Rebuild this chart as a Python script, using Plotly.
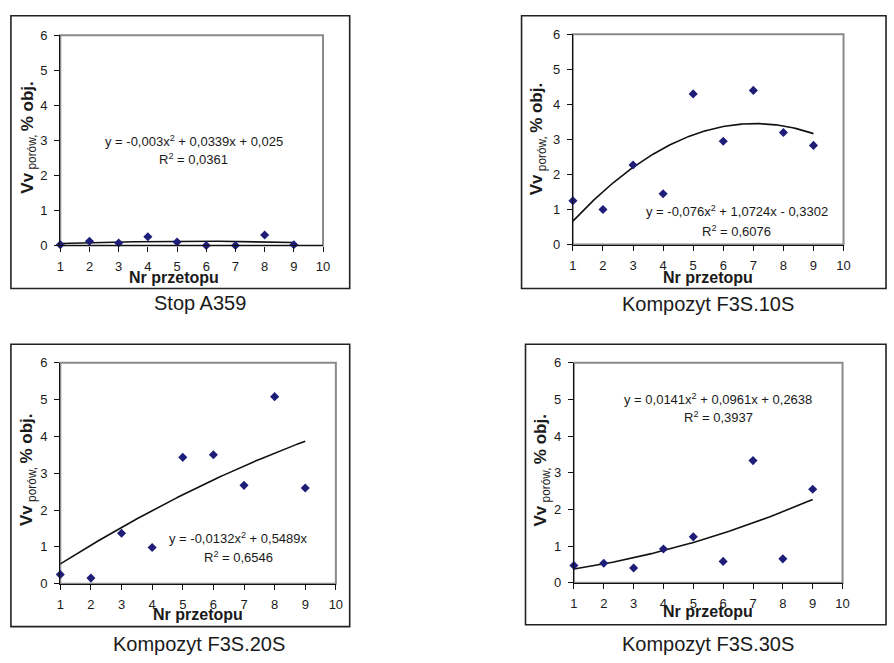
import numpy as np
import plotly.graph_objects as go

# Porosity (Vv porów, % obj.) per melt number for each material
melts = [1, 2, 3, 4, 5, 6, 7, 8, 9]
vv_a359 = [0.02, 0.12, 0.07, 0.25, 0.10, 0.0, 0.0, 0.30, 0.02]
vv_f3s10s = [1.25, 1.00, 2.27, 1.45, 4.30, 2.95, 4.40, 3.20, 2.83]
vv_f3s20s = [0.25, 0.15, 1.37, 0.98, 3.43, 3.50, 2.67, 5.08, 2.60]
vv_f3s30s = [0.47, 0.53, 0.40, 0.92, 1.25, 0.58, 3.33, 0.65, 2.55]

# Quadratic trendline coefficients (a, b, c) for y = a*x^2 + b*x + c
fit_a359 = (-0.003, 0.0339, 0.025)
fit_f3s10s = (-0.076, 1.0724, -0.3302)
fit_f3s20s = (-0.0132, 0.5489, 0.0)
fit_f3s30s = (0.0141, 0.0961, 0.2638)

eq_a359 = ["y = -0,003x<sup>2</sup> + 0,0339x + 0,025", "R<sup>2</sup> = 0,0361"]
eq_f3s10s = ["y = -0,076x<sup>2</sup> + 1,0724x - 0,3302", "R<sup>2</sup> = 0,6076"]
eq_f3s20s = ["y = -0,0132x<sup>2</sup> + 0,5489x", "R<sup>2</sup> = 0,6546"]
eq_f3s30s = ["y = 0,0141x<sup>2</sup> + 0,0961x + 0,2638", "R<sup>2</sup> = 0,3937"]

captions = ["Stop A359", "Kompozyt F3S.10S", "Kompozyt F3S.20S", "Kompozyt F3S.30S"]

x_ticks = [1, 2, 3, 4, 5, 6, 7, 8, 9, 10]
y_ticks = [0, 1, 2, 3, 4, 5, 6]

W, H = 894, 663
FONT = "Liberation Sans, Arial, sans-serif"
TXT = "#1a1a1a"
MARK = "#1e1e78"


def px(x):
    return x / W


def py(y):
    return 1 - y / H


# per panel: plot-area box (left, top, right, bottom) in pixels, outer frame,
# y-title centre, x-title centre, equation centres, caption centre
panels = [
    dict(vals=vv_a359, fit=fit_a359, eq=eq_a359, cap=captions[0],
         plot=(57, 29, 323, 244), frame=(7, 9, 350, 288),
         ytitle=(25, 133), xtitle=(172, 277), eqpos=[(192, 137), (192, 156)],
         cappos=(198, 303)),
    dict(vals=vv_f3s10s, fit=fit_f3s10s, eq=eq_f3s10s, cap=captions[1],
         plot=(576, 28, 850, 243), frame=(524, 9, 893, 288),
         ytitle=(541, 135), xtitle=(713, 277), eqpos=[(742, 209), (742, 229)],
         cappos=(713, 304)),
    dict(vals=vv_f3s20s, fit=fit_f3s20s, eq=eq_f3s20s, cap=captions[2],
         plot=(57, 364, 336, 590), frame=(7, 345, 350, 634),
         ytitle=(25, 473), xtitle=(196, 622), eqpos=[(237, 543), (237, 563)],
         cappos=(197, 652)),
    dict(vals=vv_f3s30s, fit=fit_f3s30s, eq=eq_f3s30s, cap=captions[3],
         plot=(577, 364, 849, 589), frame=(528, 345, 893, 632),
         ytitle=(545, 474), xtitle=(713, 618), eqpos=[(723, 401), (723, 420)],
         cappos=(713, 652)),
]

fig = go.Figure()
shapes = []
annotations = []
ytitle_text = "<b>Vv</b><sub> porów, </sub><b>% obj.</b>"

for i, p in enumerate(panels, start=1):
    xa = "x" if i == 1 else f"x{i}"
    ya = "y" if i == 1 else f"y{i}"
    a, b, c = p["fit"]
    xs = np.linspace(1, 9, 161)
    ys = a * xs ** 2 + b * xs + c

    fig.add_trace(go.Scatter(x=xs, y=ys, mode="lines", xaxis=xa, yaxis=ya,
                             line=dict(color="#111111", width=1.6),
                             showlegend=False, hoverinfo="skip"))
    fig.add_trace(go.Scatter(x=melts, y=p["vals"], mode="markers", xaxis=xa, yaxis=ya,
                             marker=dict(symbol="diamond", size=7, color=MARK),
                             cliponaxis=False, showlegend=False))

    l, t, r, btm = p["plot"]
    axis_common = dict(showgrid=False, zeroline=False, showline=True,
                       linecolor="#111111", linewidth=1.2, ticks="outside",
                       ticklen=5, tickcolor="#111111", tickwidth=1,
                       tickfont=dict(family=FONT, size=13, color=TXT), fixedrange=True)
    fig.layout[f"xaxis{'' if i == 1 else i}"] = dict(
        axis_common, domain=[px(l), px(r)], range=[1, 10], tickvals=x_ticks,
        anchor=ya, ticklabelstandoff=4)
    fig.layout[f"yaxis{'' if i == 1 else i}"] = dict(
        axis_common, domain=[py(btm), py(t)], range=[0, 6], tickvals=y_ticks,
        anchor=xa, ticklabelstandoff=4)

    # gray border round the plot area
    shapes.append(dict(type="rect", xref=f"{xa} domain", yref=f"{ya} domain",
                       x0=0, x1=1, y0=0, y1=1, layer="below",
                       line=dict(color="#8a8a8a", width=2)))
    # outer chart frame
    fl, ft, fr, fb = p["frame"]
    shapes.append(dict(type="rect", xref="paper", yref="paper",
                       x0=px(fl), x1=px(fr), y0=py(fb), y1=py(ft),
                       line=dict(color="#222222", width=1.6)))

    annotations.append(dict(text=ytitle_text, textangle=-90, xref="paper", yref="paper",
                            x=px(p["ytitle"][0]), y=py(p["ytitle"][1]),
                            xanchor="center", yanchor="middle", showarrow=False,
                            font=dict(family=FONT, size=17, color=TXT)))
    annotations.append(dict(text="<b>Nr przetopu</b>", xref="paper", yref="paper",
                            x=px(p["xtitle"][0]), y=py(p["xtitle"][1]),
                            xanchor="center", yanchor="middle", showarrow=False,
                            font=dict(family=FONT, size=16, color=TXT)))
    for line_txt, (ex, ey) in zip(p["eq"], p["eqpos"]):
        annotations.append(dict(text=line_txt, xref="paper", yref="paper",
                                x=px(ex), y=py(ey), xanchor="center", yanchor="middle",
                                showarrow=False,
                                font=dict(family=FONT, size=13, color=TXT)))
    annotations.append(dict(text=p["cap"], xref="paper", yref="paper",
                            x=px(p["cappos"][0]), y=py(p["cappos"][1]),
                            xanchor="center", yanchor="middle", showarrow=False,
                            font=dict(family=FONT, size=20, color=TXT)))

fig.update_layout(width=W, height=H, margin=dict(l=0, r=0, t=0, b=0),
                  paper_bgcolor="white", plot_bgcolor="white",
                  shapes=shapes, annotations=annotations, showlegend=False)

fig.write_html("out.html")
